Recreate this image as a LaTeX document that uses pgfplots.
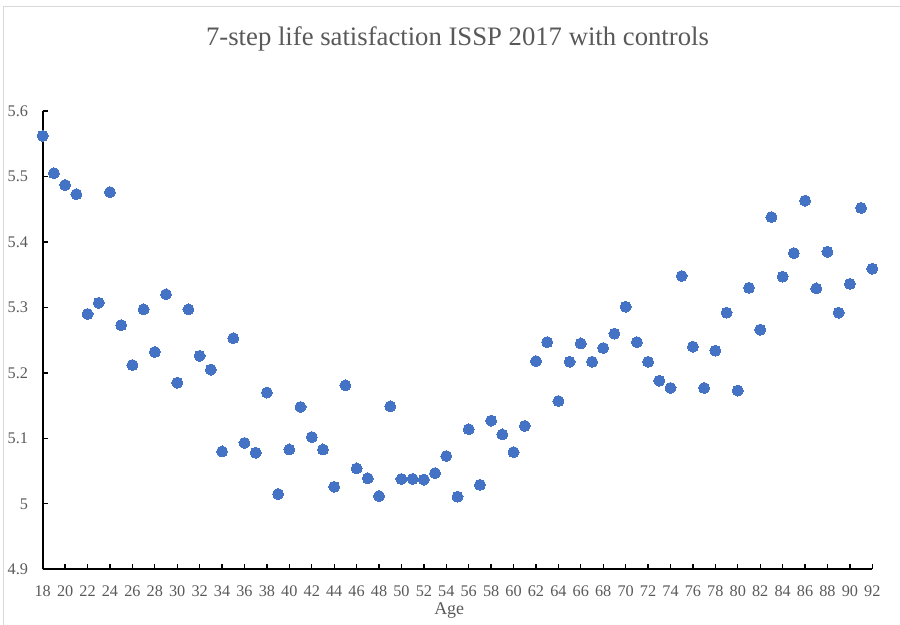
\documentclass[border=0pt]{standalone}
\usepackage{pgfplots}
\pgfplotsset{compat=1.18}
\usepackage{fontspec}
\setmainfont{Liberation Serif}
\definecolor{ptblue}{HTML}{4472C4}
\definecolor{txtgray}{HTML}{595959}
\definecolor{bordergray}{HTML}{D9D9D9}
\begin{document}
\begin{tikzpicture}[x=1bp,y=1bp]
\path[use as bounding box] (0,0) rectangle (900,625);
\draw[bordergray, line width=1.5bp] (3.5,0) -- (3.5,618.5) -- (900,618.5);
\node[txtgray, font=\fontsize{26.8}{30}\selectfont, anchor=base] at (457.5,579) {7-step life satisfaction ISSP 2017 with controls};
\begin{axis}[
  at={(42.7bp,55.7bp)}, anchor=south west,
  scale only axis, width=829.6bp, height=458.3bp,
  xmin=18, xmax=92, ymin=4.9, ymax=5.6,
  axis x line*=bottom, axis y line*=left,
  axis line style={-, black, line width=2bp},
  tick align=inside, major tick length=5bp,
  tick style={black, line width=1.3bp},
  xtick={18,20,...,92},
  ytick={4.9,5.0,5.1,5.2,5.3,5.4,5.5,5.6},
  yticklabels={4.9,5,5.1,5.2,5.3,5.4,5.5,5.6},
  /pgf/number format/assume math mode=true,
  ticklabel style={text=txtgray, font=\fontsize{16.3}{18}\selectfont, inner sep=0pt},
  xticklabel style={anchor=north, yshift=-16bp},
  yticklabel style={anchor=east, xshift=-14.5bp},
  xlabel={Age},
  xlabel style={at={(axis description cs:0.49,0)}, anchor=base, yshift=-45.3bp, text=txtgray, font=\fontsize{18}{20}\selectfont, inner sep=0pt},
  clip=false,
]
\addplot[only marks, mark=*, mark size=5.5bp, mark options={fill=ptblue, draw=ptblue, line width=0pt}] table {
x y
18 5.562
19 5.505
20 5.487
21 5.473
22 5.290
23 5.307
24 5.476
25 5.273
26 5.212
27 5.297
28 5.232
29 5.320
30 5.185
31 5.297
32 5.226
33 5.205
34 5.080
35 5.253
36 5.093
37 5.078
38 5.170
39 5.015
40 5.083
41 5.148
42 5.102
43 5.083
44 5.026
45 5.181
46 5.054
47 5.039
48 5.012
49 5.149
50 5.038
51 5.038
52 5.037
53 5.047
54 5.073
55 5.011
56 5.114
57 5.029
58 5.127
59 5.106
60 5.079
61 5.119
62 5.218
63 5.247
64 5.157
65 5.217
66 5.245
67 5.217
68 5.238
69 5.260
70 5.301
71 5.247
72 5.217
73 5.188
74 5.177
75 5.348
76 5.240
77 5.177
78 5.234
79 5.292
80 5.173
81 5.330
82 5.266
83 5.438
84 5.347
85 5.383
86 5.463
87 5.329
88 5.385
89 5.292
90 5.336
91 5.452
92 5.359
};
\end{axis}
\end{tikzpicture}
\end{document}
